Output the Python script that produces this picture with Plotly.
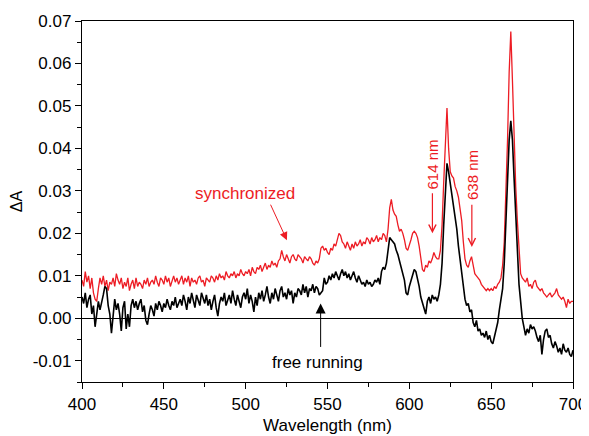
import plotly.graph_objects as go

# Wavelength axis, 1 nm steps
wavelength = list(range(400, 701))

# Delta A values, in units of 1e-4
synchronized = [
    90, 75, 110, 85, 100, 70, 95, 60, 45, 40,
    70, 95, 80, 100, 75, 90, 65, 85, 80, 95,
    75, 105, 90, 80, 95, 70, 85, 75, 95, 65,
    80, 90, 70, 95, 75, 85, 80, 70, 90, 80,
    95, 75, 85, 90, 80, 100, 85, 75, 95, 90,
    80, 100, 85, 95, 75, 90, 100, 85, 95, 80,
    90, 100, 80, 95, 85, 100, 75, 95, 85, 90,
    80, 95, 100, 85, 90, 75, 95, 90, 85, 100,
    95, 85, 100, 90, 105, 95, 100, 90, 110, 100,
    95, 105, 100, 110, 95, 105, 100, 115, 105, 100,
    110, 105, 115, 100, 120, 110, 105, 120, 115, 125,
    110, 120, 130, 115, 125, 120, 135, 125, 130, 120,
    135, 140, 160, 145, 135, 150, 140, 130, 145, 150,
    140, 135, 150, 145, 140, 130, 145, 140, 135, 145,
    140, 130, 125, 135, 130, 140, 165, 170, 160, 165,
    155, 150, 165, 160, 175, 170, 185, 200, 195, 180,
    175, 165, 180, 170, 160, 175, 165, 180, 170, 175,
    185, 170, 180, 175, 190, 185, 175, 190, 180, 185,
    195, 180, 190, 185, 200, 195, 180, 210, 260, 280,
    255, 245, 240, 220, 205, 210, 200, 185, 165, 160,
    170, 185, 200, 205, 200, 190, 170, 140, 115, 110,
    125, 120, 135, 130, 140, 155, 145, 140, 140, 160,
    220, 320, 430, 495, 400, 345, 335, 330, 310, 300,
    285, 260, 230, 180, 140, 125, 120, 135, 145, 125,
    105, 100, 95, 90, 80, 75, 70, 65, 70, 65,
    70, 65, 75, 70, 80, 85, 95, 125, 180, 280,
    420, 580, 675, 560, 420, 310, 230, 150, 105, 95,
    90, 85, 95, 75, 80, 70, 85, 90, 75, 70,
    65, 70, 60, 55, 50, 55, 60, 50, 55, 60,
    70, 55, 50, 45, 50, 40, 25, 45, 35, 40,
    40,
]

free_running = [
    50, 35, 60, 25, 45, 55, 10, 30, -20, 15,
    40, 20, 35, 55, 75, 70, 30, 10, -35, 15,
    45, 20, 35, 10, -30, 25, 40, -25, 10, -20,
    30, 45, 25, 40, 20, 35, 45, 15, 30, -5,
    -15, 10, 30, 20, 5, 35, 20, 40, 30, 15,
    35, 25, 45, 30, 20, 40, 30, 50, 25, 35,
    45, 30, 55, 40, 20, 50, 35, 60, 40, 25,
    55, 40, 30, 60, 45, 35, 55, 30, 45, 20,
    40, 55, 25, 5, 35, 50, 40, 60, 30, 45,
    55, 35, 65, 45, 30, 55, 40, 25, 50, 60,
    45, 70, 35, 55, 40, 15, 50, 30, 60, 45,
    65, 40, 55, 75, 50, 35, 60, 45, 70, 55,
    40, 65, 75, 50, 60, 45, 70, 55, 65, 35,
    60, 50, 70, 65, 55, 80, 60, 75, 50, 70,
    65, 80, 60, 75, 70, 55, 60, 65, 95, 80,
    85, 100, 90, 105, 95, 110, 100, 90, 105, 115,
    100, 110, 95, 105, 90, 100, 110, 95, 85, 100,
    90, 80, 85, 75, 90, 80, 85, 75, 80, 90,
    85, 95, 80, 110, 120, 115, 130, 165, 190, 185,
    180, 175, 160, 150, 135, 120, 110, 90, 60, 55,
    75, 90, 100, 115, 110, 95, 75, 50, 35, 20,
    10, 40, 50, 35, 55, 45, 50, 40, 55, 80,
    130, 220, 310, 365, 345, 320, 285, 260, 235, 210,
    170, 135, 100, 65, 45, 30, 35, 15, 20, -10,
    -20, -5, -30, -25, -40, -35, -45, -30, -50, -40,
    -55, -60, -45, -30, -10, 20, 50, 70, 130, 220,
    320, 420, 465, 420, 330, 240, 150, 80, 40, 0,
    -20, -40, -25, -35, -15, -25, -20, -30, -45, -55,
    -40, -85, -50, -30, -25, -45, -40, -60, -70, -55,
    -65, -80, -70, -85, -60, -75, -80, -70, -85, -90,
    -75,
]

y_ticks = [-0.01, 0.0, 0.01, 0.02, 0.03, 0.04, 0.05, 0.06, 0.07]
y_tick_labels = ["-0.01", "0.00", "0.01", "0.02", "0.03", "0.04", "0.05", "0.06", "0.07"]

red = '#ed1c24'
font = 'Arial, Liberation Sans, sans-serif'

fig = go.Figure()

fig.add_trace(go.Scatter(
    x=wavelength, y=[v / 10000 for v in synchronized],
    mode='lines', line=dict(color=red, width=1.3), name='synchronized'
))
fig.add_trace(go.Scatter(
    x=wavelength, y=[v / 10000 for v in free_running],
    mode='lines', line=dict(color='black', width=1.6), name='free running'
))

# text labels and arrows
fig.add_annotation(x=499.6, y=0.0295, text='synchronized', showarrow=False,
                   font=dict(color=red, size=17, family=font))
fig.add_annotation(x=525.2, y=0.0184, ax=514.8, ay=0.0271, axref='x', ayref='y',
                   text='', showarrow=True, arrowhead=2, arrowsize=1.6,
                   arrowwidth=1, arrowcolor=red)

fig.add_annotation(x=543.6, y=-0.0104, text='free running', showarrow=False,
                   font=dict(color='black', size=17, family=font))
fig.add_annotation(x=545.8, y=0.0035, ax=545.8, ay=-0.0071, axref='x', ayref='y',
                   text='', showarrow=True, arrowhead=2, arrowsize=2,
                   arrowwidth=1, arrowcolor='black')

fig.add_annotation(x=614.1, y=0.0363, text='614 nm', showarrow=False, textangle=-90,
                   font=dict(color=red, size=15, family=font))
fig.add_annotation(x=614.1, y=0.020, ax=614.1, ay=0.0298, axref='x', ayref='y',
                   text='', showarrow=True, arrowhead=5, arrowsize=1.2,
                   arrowwidth=1.2, arrowcolor=red)

fig.add_annotation(x=638.2, y=0.0337, text='638 nm', showarrow=False, textangle=-90,
                   font=dict(color=red, size=15, family=font))
fig.add_annotation(x=638.2, y=0.0168, ax=638.2, ay=0.0271, axref='x', ayref='y',
                   text='', showarrow=True, arrowhead=5, arrowsize=1.2,
                   arrowwidth=1.2, arrowcolor=red)

# the page body adds an 8px margin, so the figure fills the remaining 581x428
fig.update_layout(
    width=581, height=428,
    margin=dict(l=74, r=16, t=13, b=54),
    paper_bgcolor='white', plot_bgcolor='white',
    showlegend=False,
    font=dict(family=font, size=17, color='black'),
)

fig.update_xaxes(
    range=[400, 700], tickvals=[400, 450, 500, 550, 600, 650, 700],
    automargin=False, ticklabeloverflow='allow',
    showgrid=False, zeroline=False,
    showline=True, linecolor='black', linewidth=1.3, mirror=True,
    ticks='outside', ticklen=6, tickwidth=1.2, tickcolor='black',
    minor=dict(dtick=25, tick0=400, ticks='outside', ticklen=4, tickwidth=1.2, tickcolor='black'),
    tickfont=dict(size=17),
    title=dict(text='Wavelength (nm)', font=dict(size=17), standoff=6),
)

fig.update_yaxes(
    range=[-0.015, 0.07], tickvals=y_ticks, ticktext=y_tick_labels,
    automargin=False,
    showgrid=False, zeroline=True, zerolinecolor='black', zerolinewidth=1.2,
    showline=True, linecolor='black', linewidth=1.3, mirror=True,
    ticks='outside', ticklen=6, tickwidth=1.2, tickcolor='black',
    minor=dict(dtick=0.005, tick0=0, ticks='outside', ticklen=4, tickwidth=1.2, tickcolor='black'),
    tickfont=dict(size=17),
    title=dict(text='ΔA', font=dict(size=16), standoff=6),
)

fig.write_html("out.html")
